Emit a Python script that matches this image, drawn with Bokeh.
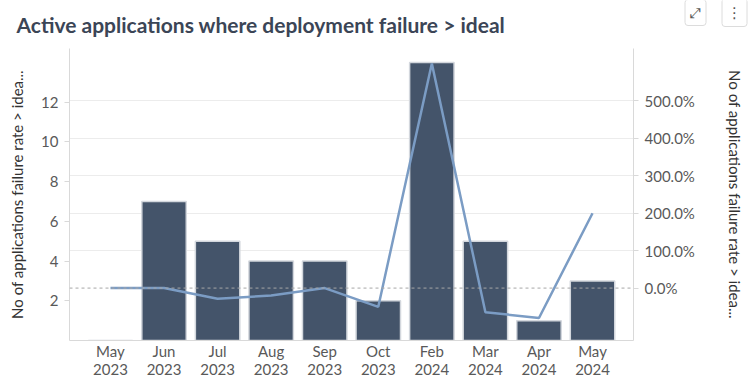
from bokeh.plotting import figure
from bokeh.layouts import column
from bokeh.models import (Range1d, LinearAxis, FixedTicker, NumeralTickFormatter,
                          Span, Label, Grid, ColumnDataSource)
from bokeh.embed import file_html
from bokeh.resources import INLINE

# ---- data ----
months = ["May\n2023", "Jun\n2023", "Jul\n2023", "Aug\n2023", "Sep\n2023",
          "Oct\n2023", "Feb\n2024", "Mar\n2024", "Apr\n2024", "May\n2024"]
app_counts = [0, 7, 5, 4, 4, 2, 14, 5, 1, 3]
pct_change = [0.0, 0.0, -0.2857, -0.20, 0.0, -0.50, 6.00, -0.6429, -0.80, 2.00]
left_ticks = [2, 4, 6, 8, 10, 12]
right_ticks = [0, 1, 2, 3, 4, 5]
title_text = "Active applications where deployment failure > ideal"
axis_title = "No of applications failure rate > idea..."

FONT = "Lato"
BAR = "#44546a"
LINE = "#7b9cc4"
TICK_C = "#595959"
W = 750

# ---- header (title + card buttons) ----
hdr = figure(width=W, height=48, title=None, output_backend="svg", toolbar_location=None,
             x_range=Range1d(0, W), y_range=Range1d(0, 48),
             min_border=0, x_axis_type=None, y_axis_type=None)
hdr.frame_align = False
hdr.outline_line_color = None
hdr.grid.visible = False
hdr.add_layout(Label(x=16, y=24, x_units="screen", y_units="screen", text=title_text,
                     text_font=FONT, text_font_style="bold", text_font_size="21px",
                     text_color="#3b4556", text_baseline="alphabetic"))
hdr.add_layout(Label(x=695, y=36, x_units="screen", y_units="screen", text="⤢",
                     text_font="DejaVu Sans", text_font_size="14px", text_color="#555555",
                     text_align="center", text_baseline="middle",
                     border_line_color="#dcdcdc", border_radius=3,
                     background_fill_color="white", padding=5))
hdr.add_layout(Label(x=734, y=36, x_units="screen", y_units="screen", text="⋮",
                     text_font="DejaVu Sans", text_font_size="15px", text_color="#555555",
                     text_align="center", text_baseline="middle",
                     border_line_color="#dcdcdc", border_radius=3,
                     background_fill_color="white", padding=5))

# ---- main chart ----
src = ColumnDataSource(dict(m=months, c=app_counts, p=pct_change))

p = figure(x_range=months, y_range=Range1d(0, 14.7), width=W, height=337,
           title=None, output_backend="svg", toolbar_location=None,
           min_border_left=69, min_border_right=117, min_border_top=0,
           min_border_bottom=45)
p.frame_align = False
p.x_range.range_padding = 0.265
p.x_range.range_padding_units = "absolute"
p.extra_y_ranges = {"pct": Range1d(-1.40, 6.40)}
p.outline_line_color = None
p.background_fill_color = "white"
p.border_fill_color = "white"

# grid follows the right axis
p.ygrid.visible = False
p.xgrid.visible = False
g = Grid(dimension=1, y_range_name="pct", ticker=FixedTicker(ticks=right_ticks[1:]),
         grid_line_color="#ececec", grid_line_width=1)
p.add_layout(g, "center")

p.vbar(x="m", top="c", width=0.83, source=src, fill_color=BAR,
       line_color="#d3d7dd", line_width=1.5)

p.add_layout(Span(location=0, dimension="width", y_range_name="pct",
                  line_color="#a6a6a6", line_dash="3 3", line_width=1, level="overlay"))

p.line(x="m", y="p", source=src, y_range_name="pct", line_color=LINE, line_width=2.5)

# left axis
ya = p.yaxis[0]
ya.ticker = FixedTicker(ticks=left_ticks)
ya.axis_label = axis_title
ya.axis_label_text_font = FONT
ya.axis_label_text_font_style = "normal"
ya.axis_label_text_font_size = "15px"
ya.axis_label_text_color = "#333333"
ya.axis_label_standoff = 12
ya.major_label_text_font = FONT
ya.major_label_text_font_size = "15px"
ya.major_label_text_color = TICK_C
ya.major_label_standoff = 6
ya.axis_line_color = "#d9d9d9"
ya.major_tick_line_color = "#d9d9d9"
ya.major_tick_out = 5
ya.major_tick_in = 0
ya.minor_tick_line_color = None

# right axis
ra = LinearAxis(y_range_name="pct", ticker=FixedTicker(ticks=right_ticks),
                formatter=NumeralTickFormatter(format="0.0%"))
ra.axis_label = axis_title
ra.axis_label_text_font = FONT
ra.axis_label_text_font_style = "normal"
ra.axis_label_text_font_size = "15px"
ra.axis_label_text_color = "#333333"
ra.axis_label_standoff = 28
ra.major_label_text_font = FONT
ra.major_label_text_font_size = "15px"
ra.major_label_text_color = TICK_C
ra.major_label_standoff = 6
ra.axis_line_color = "#d9d9d9"
ra.major_tick_line_color = "#d9d9d9"
ra.major_tick_out = 5
ra.major_tick_in = 0
ra.minor_tick_line_color = None
p.add_layout(ra, "right")

# bottom axis
xa = p.xaxis[0]
xa.major_label_text_font = FONT
xa.major_label_text_font_size = "15px"
xa.major_label_text_color = TICK_C
xa.major_label_text_line_height = 1.0
xa.major_label_standoff = 1
xa.axis_line_color = "#d9d9d9"
xa.major_tick_line_color = None
xa.major_tick_out = 0
xa.major_tick_in = 0

layout = column(hdr, p, spacing=0)
open("out.html", "w").write(file_html(layout, INLINE))
